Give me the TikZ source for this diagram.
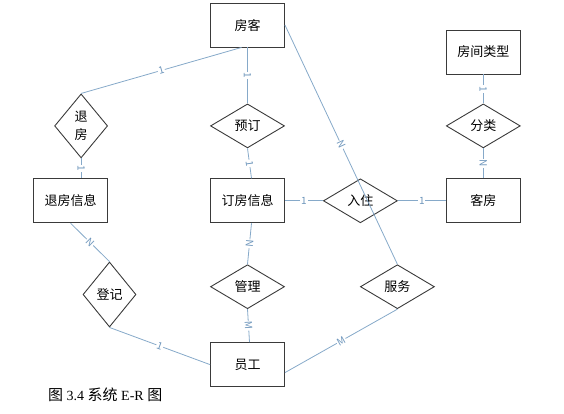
\documentclass[tikz,border=0pt]{standalone}
\usepackage{fontspec}
\setmainfont{Liberation Serif}
\newfontfamily\cjk{Noto Sans CJK SC}
\usetikzlibrary{positioning,shapes.geometric}
\definecolor{linkblue}{HTML}{86A9C9}
\definecolor{cardblue}{HTML}{6E96BC}
\definecolor{frame}{HTML}{3A3A3A}
\begin{document}
\begin{tikzpicture}[x=1pt,y=-1pt,every node/.style={font=\cjk\fontsize{13}{18}\selectfont},
      entity/.style={draw=frame,line width=.9pt,minimum width=74pt,minimum height=44pt,align=center},
      relation/.style={diamond,draw=frame,line width=.9pt,minimum width=74pt,minimum height=44pt,inner sep=1pt,align=center},
      rel/.style={draw=linkblue,line width=.8pt},
      card/.style={midway,sloped,fill=white,inner sep=.8pt,text=cardblue,font=\cjk\fontsize{10}{10}\selectfont}]
      \useasboundingbox (0,0) rectangle (564,413);
      \node[entity] (fangke) at (247.5,25) {房客};
      \node[relation,below=56pt of fangke] (yuding) {预订};
      \node[relation,left=102pt of yuding,minimum width=53pt,minimum height=64pt] (tuifang) {退\\房};
      \node[entity,below=30pt of yuding] (dfxx) {订房信息};
      \node[entity,left=102pt of dfxx] (tfxx) {退房信息};
      \node[relation,right=38pt of dfxx] (ruzhu) {入住};
      \node[entity,right=48pt of ruzhu] (kefang) {客房};
      \node[relation,above=30pt of kefang] (fenlei) {分类};
      \node[entity,above=29pt of fenlei] (fjlx) {房间类型};
      \node[relation,below=41pt of dfxx] (guanli) {管理};
      \node[relation,right=75pt of guanli] (fuwu) {服务};
      \node[relation,minimum width=53pt,minimum height=65pt] (dengji) at (109.5,294.5) {登记};
      \node[entity,below=33pt of guanli] (yuangong) {员工};
      \node[anchor=west,inner sep=0pt,font=\fontsize{14}{16}\selectfont] (caption) at (48,395)
        {{\cjk\fontsize{15}{16}\selectfont 图} 3.4 {\cjk\fontsize{15}{16}\selectfont 系统} E-R {\cjk\fontsize{15}{16}\selectfont 图}};
      % connectors
      \draw[rel] ([xshift=-6pt]fangke.south) -- (tuifang.north) node[card] {1};
      \draw[rel] (fangke.south) -- (yuding.north) node[card] {1};
      \draw[rel] (fangke.east) -- (fuwu.north) node[card] {N};
      \draw[rel] (tuifang.south) -- (tuifang.south |- tfxx.north) node[card] {1};
      \draw[rel] (yuding.south) -- ([xshift=4pt]dfxx.north) node[card] {1};
      \draw[rel] (dfxx.east) -- (ruzhu.west) node[card] {1};
      \draw[rel] (ruzhu.east) -- (kefang.west) node[card] {1};
      \draw[rel] (fjlx.south) -- (fenlei.north) node[card] {1};
      \draw[rel] (fenlei.south) -- (kefang.north) node[card] {N};
      \draw[rel] (tfxx.south) -- (dengji.north) node[card] {N};
      \draw[rel] ([xshift=4pt]dfxx.south) -- (guanli.north) node[card] {N};
      \draw[rel] (guanli.south) -- ([xshift=2pt]yuangong.north) node[card] {M};
      \draw[rel] (dengji.south) -- (yuangong.west) node[card] {1};
      \draw[rel] (fuwu.south) -- ([yshift=-8pt]yuangong.east) node[card] {M};
    \end{tikzpicture}
\end{document}
